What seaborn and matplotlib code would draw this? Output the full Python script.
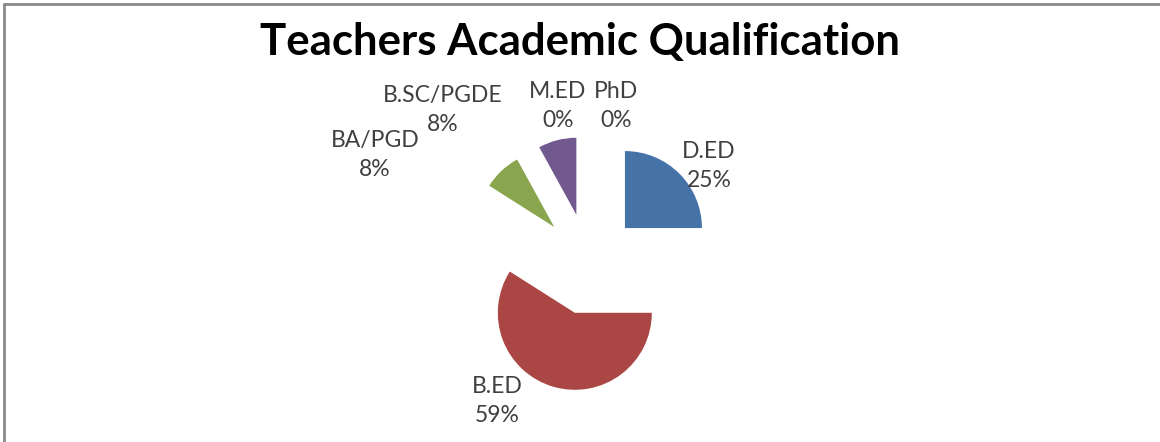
import matplotlib
matplotlib.use("Agg")
import matplotlib.pyplot as plt
import seaborn as sns
from matplotlib.lines import Line2D

# data
categories = ["D.ED", "B.ED", "BA/PGD", "B.SC/PGDE", "M.ED", "PhD"]
percents = [25, 59, 8, 8, 0, 0]
colors = ["#4572A7", "#AA4643", "#89A54E", "#71588F", "#4198AF", "#DB843D"]

# label block centres, pixel offsets from pie centre (dx right, dy down)
label_offsets = {
    "D.ED": (120, -98),
    "B.ED": (-92, 137),
    "BA/PGD": (-214, -109),
    "B.SC/PGDE": (-146, -154),
    "M.ED": (-31, -158),
    "PhD": (27, -158),
}

W, H = 1160, 442
R_PX = 77          # pie radius in pixels
CX, CY = 589, 264  # pie centre in pixels

sns.set_theme(style="white")
plt.rcParams["font.family"] = ["Lato", "DejaVu Sans"]

fig = plt.figure(figsize=(W / 100, H / 100), dpi=100)
ax = fig.add_axes([0, 0, 1, 1])

ax.pie(percents, colors=colors, startangle=90, counterclock=False,
       explode=[0.66] * len(percents), radius=1,
       wedgeprops=dict(linewidth=0))

ax.set_xlim(-CX / R_PX, (W - CX) / R_PX)
ax.set_ylim(-(H - CY) / R_PX, CY / R_PX)
ax.set_aspect("equal")
ax.axis("off")

for cat, pct in zip(categories, percents):
    dx, dy = label_offsets[cat]
    ax.text(dx / R_PX, -dy / R_PX, f"{cat}\n{pct}%", ha="center", va="center",
            fontsize=16.5, color="#404040", linespacing=1.5)

fig.text(0.5, 1 - 42 / H, "Teachers Academic Qualification", ha="center",
         va="center", fontsize=31.5, fontweight="bold", color="black")

# frame lines at top and left
fig.add_artist(Line2D([4 / W, 1], [1 - 4 / H, 1 - 4 / H], color="#8a8a8a", lw=2))
fig.add_artist(Line2D([4 / W, 4 / W], [0, 1 - 4 / H], color="#8a8a8a", lw=2))

fig.savefig("out.png", dpi=100)
